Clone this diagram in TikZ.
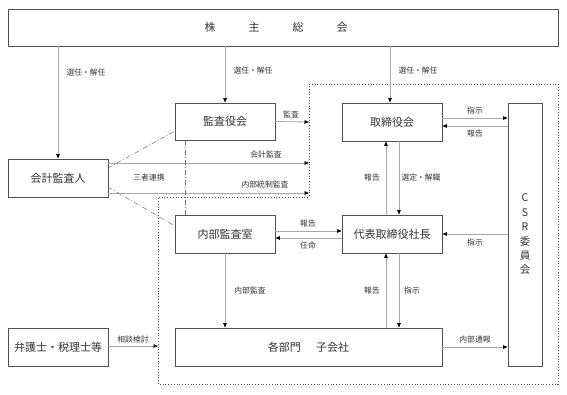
\documentclass[tikz,border=0pt]{standalone}
\usepackage{fontspec}
\setmainfont{Noto Sans CJK JP}
\usetikzlibrary{arrows.meta}
\definecolor{boxc}{HTML}{505050}
\definecolor{linec}{HTML}{A8A8A8}
\definecolor{txtc}{HTML}{333333}
\definecolor{dashc}{HTML}{707070}
\begin{document}
\begin{tikzpicture}[x=1pt,y=-1pt,
  box/.style={draw=boxc,line width=0.8pt,minimum height=38pt,minimum width=100pt,inner sep=0pt,
    font=\fontsize{11}{13}\selectfont,text=txtc},
  lbl/.style={font=\fontsize{7.8}{9}\selectfont,text=txtc,inner sep=0pt},
  conn/.style={draw=linec,line width=0.8pt,-{Triangle[length=4.5pt,width=3.5pt,color=black]}},
  link/.style={draw=dashc,line width=0.5pt,dash pattern=on 5pt off 2pt on 1pt off 2pt},
  bound/.style={draw=boxc,line width=0.8pt,dotted}]
\useasboundingbox (0,0) rectangle (567,394);
\fill[white] (0,0) rectangle (567,394);

% boundary of the company
\draw[bound] (309,84) -- (558,84) -- (558,384) -- (158,384) -- (158,197) -- (309,197) -- cycle;

% boxes
\node[box,minimum width=550pt,minimum height=37pt] (sh) at (283,27.5) {};
\node[font=\fontsize{11}{13}\selectfont,text=txtc] (shtext) at (276,27.5) {株\hspace{33pt}主\hspace{33pt}総\hspace{33pt}会};
\node[box,minimum height=37pt] (kansa) at (225,121.5) {監査役会};
\node[box] (tori) at (392,122) {取締役会};
\node[box] (kaikei) at (58,178) {会計監査人};
\node[box] (naibu) at (225,234) {内部監査室};
\node[box] (daihyo) at (392,234) {代表取締役社長};
\node[box] (bengo) at (58,347) {弁護士・税理士等};
\node[box,minimum width=267pt] (kakubu) at (308.5,347) {各部門\hspace{1.4em}子会社};
\node[box,minimum width=34pt,minimum height=263pt,align=center,font=\fontsize{10.5}{14.4}\selectfont] (csr) at (525,234.5) {C\\S\\R\\委\\員\\会};

% helper coordinates
\coordinate (bKansa) at (309,122);
\coordinate (bKaikei) at (309,163);
\coordinate (bNaibu) at (309,193);
\coordinate (bBengo) at (158,346);
\coordinate (y118) at (0,118);
\coordinate (y126) at (0,126);
\coordinate (y231) at (0,231);
\coordinate (y238) at (0,238);
\coordinate (x386) at (386,0);
\coordinate (x399) at (399,0);
\coordinate (x390) at (390,0);
\coordinate (x185) at (185,0);

% from shareholders
\draw[conn] (kaikei.north |- sh.south) -- (kaikei.north);
\node[lbl] (l1) at (86,73) {選任・解任};
\draw[conn] (kansa.north |- sh.south) -- (kansa.north);
\node[lbl] (l2) at (253,71) {選任・解任};
\draw[conn] (x390 |- sh.south) -- (x390 |- tori.north);
\node[lbl] (l3) at (418,71) {選任・解任};

% audits into boundary
\draw[conn] (kansa.east) -- (bKansa);
\node[lbl] (l4) at (291,114) {監査};
\draw[conn] (kaikei.east |- bKaikei) -- (bKaikei);
\node[lbl] (l5) at (266,155) {会計監査};
\draw[conn] (kaikei.east |- bNaibu) -- (bNaibu);
\node[lbl] (l6) at (265,185) {内部統制監査};

% three-party cooperation
\draw[link] (108,168) -- (175,131);
\draw[link] (108,187) -- (175,226);
\draw[link] (x185 |- kansa.south) -- (x185 |- naibu.north);
\node[lbl] (l7) at (149,178) {三者連携};

% board <-> CSR
\draw[conn] (tori.east |- y118) -- (csr.west |- y118);
\node[lbl] (l8) at (475,111) {指示};
\draw[conn] (csr.west |- y126) -- (tori.east |- y126);
\node[lbl] (l9) at (475,134) {報告};

% board <-> president
\draw[conn] (x386 |- daihyo.north) -- (x386 |- tori.south);
\node[lbl] (l10) at (372,178) {報告};
\draw[conn] (x399 |- tori.south) -- (x399 |- daihyo.north);
\node[lbl] (l11) at (421,178) {選定・解職};

% CSR -> president
\draw[conn] (csr.west |- daihyo.east) -- (daihyo.east);
\node[lbl] (l12) at (475,243) {指示};

% internal audit <-> president
\draw[conn] (naibu.east |- y231) -- (daihyo.west |- y231);
\node[lbl] (l13) at (308,224) {報告};
\draw[conn] (daihyo.west |- y238) -- (naibu.east |- y238);
\node[lbl] (l14) at (308,246) {任命};

% president <-> departments
\draw[conn] (x399 |- daihyo.south) -- (x399 |- kakubu.north);
\node[lbl] (l15) at (412,291) {指示};
\draw[conn] (x386 |- kakubu.north) -- (x386 |- daihyo.south);
\node[lbl] (l16) at (372,291) {報告};

% departments -> CSR
\draw[conn] (kakubu.east) -- (csr.west |- kakubu.east);
\node[lbl] (l17) at (475,340) {内部通報};

% internal audit -> departments
\draw[conn] (naibu.south) -- (naibu.south |- kakubu.north);
\node[lbl] (l18) at (250,291) {内部監査};

% lawyers -> boundary
\draw[conn] (bengo.east |- bBengo) -- (bBengo);
\node[lbl] (l19) at (133,340) {相談検討};
\end{tikzpicture}
\end{document}
